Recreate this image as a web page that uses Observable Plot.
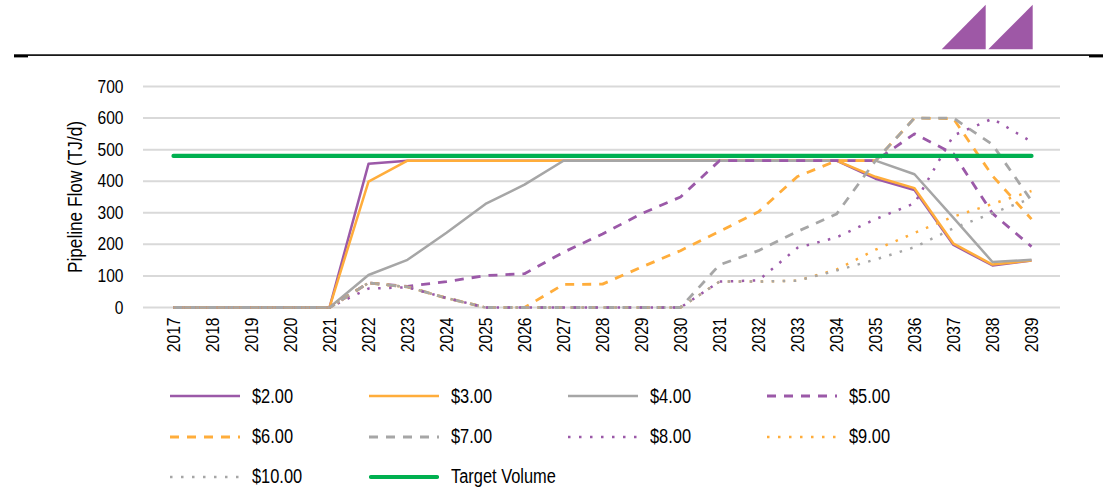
<!DOCTYPE html>
<html><head><meta charset="utf-8">
<script src="https://cdn.jsdelivr.net/npm/d3@7"></script>
<script src="https://cdn.jsdelivr.net/npm/@observablehq/plot@0.6"></script>
<style>
body{margin:0;background:#fff;}
#wrap{position:relative;width:1109px;height:501px;overflow:hidden;font-family:"Liberation Sans Narrow","Arial Narrow","Liberation Sans",Arial,sans-serif;}
#chart{position:absolute;left:0;top:60px;}
.leg{position:absolute;display:flex;align-items:center;height:24px;font-size:20px;color:#000;white-space:nowrap;}
.leg svg{width:70px;height:10px;margin-right:12px;flex:none;}
.leg span{display:inline-block;transform:scaleX(0.82);transform-origin:left center;}
</style></head><body>
<div id="wrap">
<svg id="hdr" width="1109" height="60" style="position:absolute;left:0;top:0">
 <polygon points="941.7,49.3 985.7,4.7 985.7,49.3" fill="#9e58a6"/>
 <polygon points="988.3,49.3 1032.7,4.7 1032.7,49.3" fill="#9e58a6"/>
 <rect x="14" y="54.3" width="1089" height="1.6" fill="#000"/>
 <rect x="14" y="55" width="14" height="2.4" fill="#000"/>
 <rect x="1089" y="55" width="14" height="2.4" fill="#000"/>
</svg>
<div id="chart"></div>
<div id="legend"></div>
</div>
<script>
const years = ["2017","2018","2019","2020","2021","2022","2023","2024","2025","2026","2027","2028","2029","2030","2031","2032","2033","2034","2035","2036","2037","2038","2039"];
const yTicks = [0,100,200,300,400,500,600,700];
const yLabel = "Pipeline Flow (TJ/d)";
const seriesNames = ["$2.00","$3.00","$4.00","$5.00","$6.00","$7.00","$8.00","$9.00","$10.00","Target Volume"];
const p2  = [0,0,0,0,0,455,465,465,465,465,465,465,465,465,465,465,465,465,408,372,198,133,149];
const p3  = [0,0,0,0,0,399,465,465,465,465,465,465,465,465,465,465,465,465,414,378,202,136,149];
const p4  = [0,0,0,0,0,103,151,237,328,389,465,465,465,465,465,465,465,465,465,422,284,144,151];
const p5  = [0,0,0,0,0,78,67,82,101,107,175,233,297,350,465,465,465,465,465,550,487,298,193];
const p6  = [0,0,0,0,0,78,65,30,0,0,73,74,128,180,241,303,415,465,465,600,598,417,280];
const p7  = [0,0,0,0,0,78,65,30,0,0,0,0,0,0,135,180,241,296,465,600,600,516,338];
const p8  = [0,0,0,0,0,60,64,30,0,0,0,0,0,0,82,86,189,222,280,330,545,598,525];
const p9  = [0,0,0,0,0,78,65,30,0,0,0,0,0,0,82,82,85,120,183,236,288,328,369];
const p10 = [0,0,0,0,0,78,65,30,0,0,0,0,0,0,82,82,85,117,152,191,251,299,346];
const target = [480,480,480,480,480,480,480,480,480,480,480,480,480,480,480,480,480,480,480,480,480,480,480];

const PURPLE = "#9b59a8", ORANGE = "#ffad3b", GRAY = "#a6a6a6", GREEN = "#00b050";
const DASH = "9,8", DOT = "2.5,8.5";
const styles = [
  {color: PURPLE, dash: null, w: 2.5},
  {color: ORANGE, dash: null, w: 2.5},
  {color: GRAY, dash: null, w: 2.5},
  {color: PURPLE, dash: DASH, w: 2.8},
  {color: ORANGE, dash: DASH, w: 2.8},
  {color: GRAY, dash: DASH, w: 2.8},
  {color: PURPLE, dash: DOT, w: 2.5},
  {color: ORANGE, dash: DOT, w: 2.5},
  {color: GRAY, dash: DOT, w: 2.5},
  {color: GREEN, dash: null, w: 4.2, cap: "round"}
];
const values = [p2,p3,p4,p5,p6,p7,p8,p9,p10,target];

const rows = [];
seriesNames.forEach((name, si) => years.forEach((yr, i) => rows.push({name, year: yr, value: values[si][i]})));

const FONT = '"Liberation Sans Narrow","Arial Narrow","Liberation Sans",Arial,sans-serif';

const plot = Plot.plot({
  width: 1109,
  height: 300,
  marginTop: 26,
  marginBottom: 53,
  marginLeft: 143,
  marginRight: 49,
  style: {fontFamily: FONT, background: "transparent", color: "#000"},
  x: {type: "point", domain: years, padding: 0.5},
  y: {domain: [0, 700]},
  marks: [
    Plot.ruleY(yTicks, {stroke: "#d9d9d9", strokeWidth: 2}),
    ...seriesNames.map((name, si) => Plot.line(rows.filter(r => r.name === name), {
      x: "year", y: "value",
      stroke: styles[si].color,
      strokeWidth: styles[si].w,
      strokeDasharray: styles[si].dash,
      strokeLinejoin: "round",
      strokeLinecap: styles[si].cap || "butt"
    })),
    Plot.axisX({tickRotate: -90, tickSize: 0, tickPadding: 10, fontSize: 19, label: null}),
    Plot.axisY({ticks: yTicks, tickSize: 0, tickPadding: 20, fontSize: 19, label: null, tickFormat: d => String(d)}),
    Plot.text([yLabel], {frameAnchor: "left", textAnchor: "middle", lineAnchor: "middle", rotate: -90, dx: -68, fontSize: 21, fill: "#000"})
  ]
});
document.getElementById("chart").appendChild(plot);

// condense the text to mimic a narrow typeface
const narrowAvailable = document.fonts && document.fonts.check('12px "Liberation Sans Narrow"') &&
  (() => { const c = document.createElement("canvas").getContext("2d");
     c.font = '20px "Liberation Sans Narrow", monospace'; const a = c.measureText("0000000000").width;
     c.font = '20px monospace'; const b = c.measureText("0000000000").width; return a !== b; })();
if (!narrowAvailable) {
  plot.querySelectorAll("text").forEach(t => {
    const len = t.getComputedTextLength();
    if (len > 0) {
      t.setAttribute("textLength", (len * 0.82).toFixed(2));
      t.setAttribute("lengthAdjust", "spacingAndGlyphs");
    }
  });
}

// legend
const legCols = [170, 369, 568, 767];
const legRows = [396, 436.5, 476.5];
const legend = document.getElementById("legend");
seriesNames.forEach((name, i) => {
  const s = styles[i];
  const div = document.createElement("div");
  div.className = "leg";
  div.style.left = legCols[i % 4] + "px";
  div.style.top = (legRows[Math.floor(i / 4)] - 12) + "px";
  const ns = "http://www.w3.org/2000/svg";
  const svg = document.createElementNS(ns, "svg");
  svg.setAttribute("width", 70); svg.setAttribute("height", 10);
  const ln = document.createElementNS(ns, "line");
  ln.setAttribute("x1", s.cap ? 2 : 0); ln.setAttribute("x2", s.cap ? 68 : 70);
  ln.setAttribute("y1", 5); ln.setAttribute("y2", 5);
  ln.setAttribute("stroke", s.color);
  ln.setAttribute("stroke-width", s.w);
  if (s.dash) ln.setAttribute("stroke-dasharray", s.dash);
  if (s.cap) ln.setAttribute("stroke-linecap", s.cap);
  svg.appendChild(ln);
  div.appendChild(svg);
  const t = document.createElement("span");
  t.textContent = name;
  if (narrowAvailable) t.style.transform = "none";
  div.appendChild(t);
  legend.appendChild(div);
});
</script>
</body></html>
